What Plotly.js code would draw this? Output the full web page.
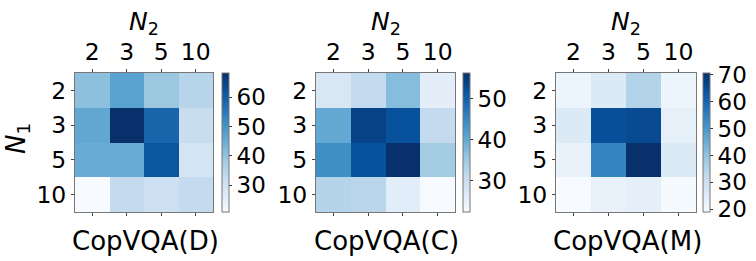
<!DOCTYPE html>
<html>
<head>
<meta charset="utf-8">
<script src="https://cdn.plot.ly/plotly-3.0.1.min.js"></script>
<style>html,body{margin:0;padding:0;background:#fff;}#chart{width:756px;height:261px;}</style>
</head>
<body>
<div id="chart"></div>
<script>
const N2 = ['2', '3', '5', '10'];
const N1 = ['2', '3', '5', '10'];
const panelTitles = ['CopVQA(D)', 'CopVQA(C)', 'CopVQA(M)'];
const copD = [
  [40.7, 47.0, 39.0, 35.0],
  [46.0, 68.3, 58.6, 32.0],
  [45.0, 45.0, 61.5, 29.5],
  [20.9, 33.0, 31.0, 33.0]
];
const copC = [
  [27.5, 31.0, 37.0, 25.7],
  [40.0, 54.0, 52.0, 31.0],
  [44.0, 52.0, 56.3, 34.5],
  [32.5, 32.0, 26.0, 22.3]
];
const copM = [
  [21.5, 26.0, 35.0, 21.5],
  [26.0, 64.5, 65.5, 23.5],
  [22.5, 54.0, 70.7, 26.0],
  [19.0, 22.5, 24.0, 19.5]
];
const series = [copD, copC, copM];

const blues = [
  [0.0, '#f7fbff'], [0.125, '#deebf7'], [0.25, '#c6dbef'], [0.375, '#9ecae1'],
  [0.5, '#6baed6'], [0.625, '#4292c6'], [0.75, '#2171b5'], [0.875, '#08519c'], [1.0, '#08306b']
];

const W = 756, H = 261;
const plotX = [[75, 213], [316, 455], [556, 696]];
const cbX = [222, 463, 703];
const yTop = 73, yBot = 212;
const FONT = 'DejaVu Sans, sans-serif';
const TICK = 23.5;

const traces = [];
const layout = {
  width: W, height: H,
  margin: {l: 0, r: 0, t: 0, b: 0},
  paper_bgcolor: '#fff', plot_bgcolor: '#fff',
  font: {family: FONT, size: TICK, color: '#000'},
  showlegend: false,
  annotations: []
};

series.forEach((z, i) => {
  const sfx = i === 0 ? '' : String(i + 1);
  traces.push({
    type: 'heatmap',
    x: N2, y: N1, z: z,
    xaxis: 'x' + sfx, yaxis: 'y' + sfx,
    colorscale: blues,
    hoverinfo: 'skip',
    colorbar: {
      x: cbX[i] / W, xanchor: 'left', xpad: 0,
      y: 1 - (yTop + yBot) / 2 / H, yanchor: 'middle', ypad: 0,
      len: yBot - yTop, lenmode: 'pixels',
      thickness: 7, thicknessmode: 'pixels',
      outlinewidth: 1, outlinecolor: '#777',
      ticks: 'outside', ticklen: 3, tickwidth: 1, tickcolor: '#333',
      dtick: 10, tick0: 0,
      tickfont: {family: FONT, size: 23, color: '#000'}
    }
  });
  layout['xaxis' + sfx] = {
    domain: [plotX[i][0] / W, plotX[i][1] / W],
    anchor: 'y' + sfx,
    type: 'category', side: 'top',
    ticks: 'outside', ticklen: 3, tickcolor: '#444', tickwidth: 1,
    showline: true, linecolor: '#777', linewidth: 1, mirror: 'ticks',
    showgrid: false, zeroline: false, fixedrange: true,
    tickfont: {family: FONT, size: TICK, color: '#000'}
  };
  layout['yaxis' + sfx] = {
    domain: [1 - yBot / H, 1 - yTop / H],
    anchor: 'x' + sfx,
    type: 'category', autorange: 'reversed',
    ticks: 'outside', ticklen: 3, tickcolor: '#444', tickwidth: 1,
    showline: true, linecolor: '#777', linewidth: 1, mirror: true,
    showgrid: false, zeroline: false, fixedrange: true,
    tickfont: {family: FONT, size: TICK, color: '#000'}
  };
  const cx = (plotX[i][0] + plotX[i][1]) / 2 / W;
  layout.annotations.push({
    text: '<i>N</i><sub>2</sub>', x: cx, y: 1 - 23 / H,
    xref: 'paper', yref: 'paper', xanchor: 'center', yanchor: 'middle',
    showarrow: false, font: {family: FONT, size: 25, color: '#000'}
  });
  layout.annotations.push({
    text: panelTitles[i], x: cx + 1 / W, y: 1 - 241 / H,
    xref: 'paper', yref: 'paper', xanchor: 'center', yanchor: 'middle',
    showarrow: false, font: {family: FONT, size: 26, color: '#000'}
  });
});

layout.annotations.push({
  text: '<i>N</i><sub>1</sub>', x: 17 / W, y: 1 - 139 / H,
  xref: 'paper', yref: 'paper', xanchor: 'center', yanchor: 'middle',
  textangle: -90, showarrow: false, font: {family: FONT, size: 26, color: '#000'}
});

Plotly.newPlot('chart', traces, layout, {staticPlot: true, displayModeBar: false});
</script>
</body>
</html>
